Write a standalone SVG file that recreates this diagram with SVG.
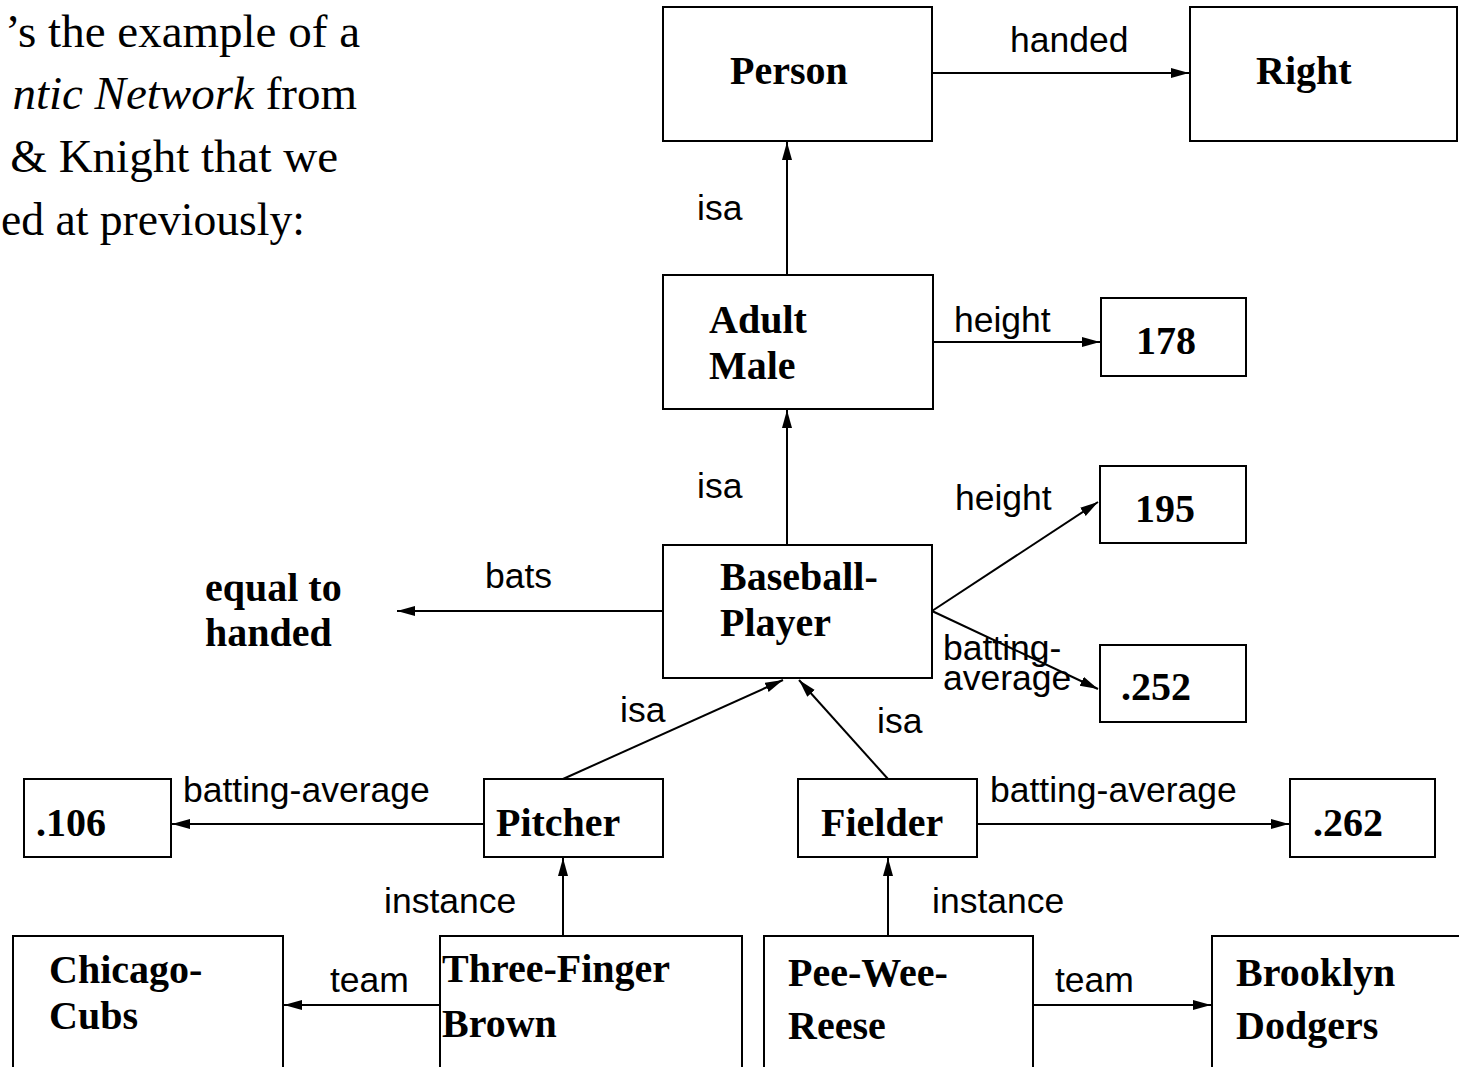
<svg xmlns="http://www.w3.org/2000/svg" width="1459" height="1067" viewBox="0 0 1459 1067">
<style>
.box{fill:#fff;stroke:#000;stroke-width:2}
.nt{font-family:"Liberation Serif","Times New Roman",serif;font-weight:bold;font-size:40px;fill:#000}
.lb{font-family:"Liberation Sans",Arial,sans-serif;font-size:35.5px;fill:#000}
.intro{font-family:"Liberation Serif","Times New Roman",serif;font-size:47px;fill:#000}
.edge{fill:none;stroke:#000;stroke-width:2;marker-end:url(#ah)}
</style>
<defs>
<marker id="ah" markerUnits="userSpaceOnUse" markerWidth="20" markerHeight="12" refX="18" refY="5" orient="auto">
<path d="M0,0 L18,5 L0,10 z" fill="#000"/>
</marker>
</defs>
<rect width="1459" height="1067" fill="#fff"/>
<g id="intro">
<text class="intro" x="360" y="47" text-anchor="end">’s the example of a</text>
<text class="intro" x="357" y="109" text-anchor="end"><tspan font-style="italic">ntic Network</tspan> from</text>
<text class="intro" x="338" y="172" text-anchor="end">&amp; Knight that we</text>
<text class="intro" x="1" y="235" textLength="304" lengthAdjust="spacingAndGlyphs">ed at previously:</text>
</g>
<g id="connectors">
<path class="edge" d="M932,73 L1189,73"/>
<path class="edge" d="M787,275 L787,142"/>
<path class="edge" d="M933,342 L1100,342"/>
<path class="edge" d="M787,545 L787,410"/>
<path class="edge" d="M932,611 L1098,502"/>
<path class="edge" d="M932,611 L1098,689"/>
<path class="edge" d="M663,611 L397,611"/>
<path class="edge" d="M563,779 L783,680"/>
<path class="edge" d="M888,779 L799,680"/>
<path class="edge" d="M484,824 L172,824"/>
<path class="edge" d="M977,824 L1289,824"/>
<path class="edge" d="M563,936 L563,858"/>
<path class="edge" d="M888,936 L888,858"/>
<path class="edge" d="M440,1005 L284,1005"/>
<path class="edge" d="M1033,1005 L1211,1005"/>
<text class="lb" x="1010" y="52">handed</text>
<text class="lb" x="697" y="220">isa</text>
<text class="lb" x="954" y="332">height</text>
<text class="lb" x="697" y="498">isa</text>
<text class="lb" x="955" y="510">height</text>
<text class="lb" x="943" y="660">batting-<tspan x="943" y="690">average</tspan></text>
<text class="lb" x="485" y="588">bats</text>
<text class="lb" x="620" y="722">isa</text>
<text class="lb" x="877" y="733">isa</text>
<text class="lb" x="183" y="802">batting-average</text>
<text class="lb" x="990" y="802">batting-average</text>
<text class="lb" x="384" y="913">instance</text>
<text class="lb" x="932" y="913">instance</text>
<text class="lb" x="330" y="992">team</text>
<text class="lb" x="1055" y="992">team</text>
</g>
<g id="person"><rect class="box" x="663" y="7" width="269" height="134"/><text class="nt" x="730" y="84">Person</text></g>
<g id="right"><rect class="box" x="1190" y="7" width="267" height="134"/><text class="nt" x="1256" y="84">Right</text></g>
<g id="adult-male"><rect class="box" x="663" y="275" width="270" height="134"/><text class="nt" x="709" y="333">Adult</text><text class="nt" x="709" y="379">Male</text></g>
<g id="v178"><rect class="box" x="1101" y="298" width="145" height="78"/><text class="nt" x="1136" y="354">178</text></g>
<g id="v195"><rect class="box" x="1100" y="466" width="146" height="77"/><text class="nt" x="1135" y="522">195</text></g>
<g id="v252"><rect class="box" x="1100" y="645" width="146" height="77"/><text class="nt" x="1121" y="700">.252</text></g>
<g id="baseball-player"><rect class="box" x="663" y="545" width="269" height="133"/><text class="nt" x="720" y="590">Baseball-</text><text class="nt" x="720" y="636">Player</text></g>
<g id="equal-to-handed"><text class="nt" x="205" y="601">equal to</text><text class="nt" x="205" y="646">handed</text></g>
<g id="pitcher"><rect class="box" x="484" y="779" width="179" height="78"/><text class="nt" x="496" y="836">Pitcher</text></g>
<g id="fielder"><rect class="box" x="798" y="779" width="179" height="78"/><text class="nt" x="821" y="836">Fielder</text></g>
<g id="v106"><rect class="box" x="24" y="779" width="147" height="78"/><text class="nt" x="36" y="836">.106</text></g>
<g id="v262"><rect class="box" x="1290" y="779" width="145" height="78"/><text class="nt" x="1313" y="836">.262</text></g>
<g id="chicago-cubs"><rect class="box" x="13" y="936" width="270" height="150"/><text class="nt" x="49" y="983">Chicago-</text><text class="nt" x="49" y="1029">Cubs</text></g>
<g id="three-finger-brown"><rect class="box" x="440" y="936" width="302" height="150"/><text class="nt" x="442" y="982">Three-Finger</text><text class="nt" x="442" y="1037">Brown</text></g>
<g id="pee-wee-reese"><rect class="box" x="764" y="936" width="269" height="150"/><text class="nt" x="788" y="986">Pee-Wee-</text><text class="nt" x="788" y="1039">Reese</text></g>
<g id="brooklyn-dodgers"><rect class="box" x="1212" y="936" width="260" height="150"/><text class="nt" x="1236" y="986">Brooklyn</text><text class="nt" x="1236" y="1039">Dodgers</text></g>
</svg>
